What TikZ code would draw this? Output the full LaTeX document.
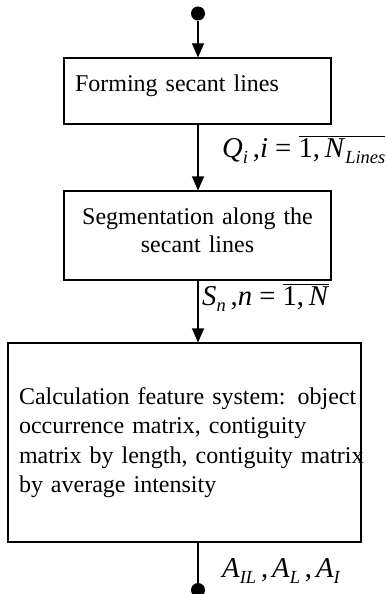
\documentclass[tikz,border=0pt]{standalone}
\usepackage{fontspec}
\setmainfont{Liberation Serif}
\usetikzlibrary{arrows.meta}
\newcommand{\mi}[1]{\textit{#1}}
\newcommand{\msub}[1]{\raisebox{-6pt}{\fontsize{18.5}{20}\selectfont\itshape #1}}
\begin{document}
\begin{tikzpicture}[x=1pt,y=-1pt,
  box/.style={draw, line width=1.1pt, inner xsep=11pt, inner ysep=0pt},
  flow/.style={draw, line width=1.1pt, -{Triangle[length=14pt,width=12pt]}},
  wire/.style={draw, line width=1.1pt},
  dotnode/.style={circle, fill, inner sep=0pt, minimum size=14pt},
  body/.style={font=\fontsize{24.0}{29.3}\selectfont},
  mlabel/.style={font=\fontsize{28.7}{32}\selectfont, inner sep=0pt, anchor=base west}]
\useasboundingbox (0,0) rectangle (387,594);
\node[dotnode] (start) at (198,13.5) {};
\node[box, body, minimum width=267pt, minimum height=66pt, text width=245pt, align=left] (b1) at (197.5,91)
  {Forming secant lines\rule[-16.5pt]{0pt}{0pt}};
\node[box, font=\fontsize{24.0}{28}\selectfont, minimum width=267pt, minimum height=89pt, text width=245pt, align=center] (b2) at (197.5,235.5)
  {Segmentation along the\\secant lines\rule[-10pt]{0pt}{0pt}};
\node[box, body, minimum width=353pt, minimum height=199pt, text width=331pt, align=left] (b3) at (184.5,442.5)
  {\mbox{Calculation feature system: object}\\\mbox{occurrence matrix, contiguity}\\\mbox{matrix by length, contiguity matrix}\\\mbox{by average intensity}};
\node[dotnode] (stop) at (198,590) {};
\draw[flow] (start) -- (start |- b1.north);
\draw[flow] (start |- b1.south) -- (start |- b2.north);
\draw[flow] (start |- b2.south) -- (start |- b3.north);
\draw[wire] (stop |- b3.south) -- (stop);
\node[mlabel] (lq) at (222,157) {\mi{Q}\msub{i}\,,\mi{i} = $\overline{\hbox{1,\,\mi{N}\msub{Lines}}}$};
\node[mlabel] (ls) at (202,305) {\mi{S}\msub{n}\,,\mi{n} = $\overline{\hbox{1,\,\mi{N}}}$};
\node[mlabel] (la) at (222,577) {\mi{A}\msub{IL}\,,\kern4pt\mi{A}\msub{L}\,,\kern4pt\mi{A}\msub{I}};
\end{tikzpicture}
\end{document}
